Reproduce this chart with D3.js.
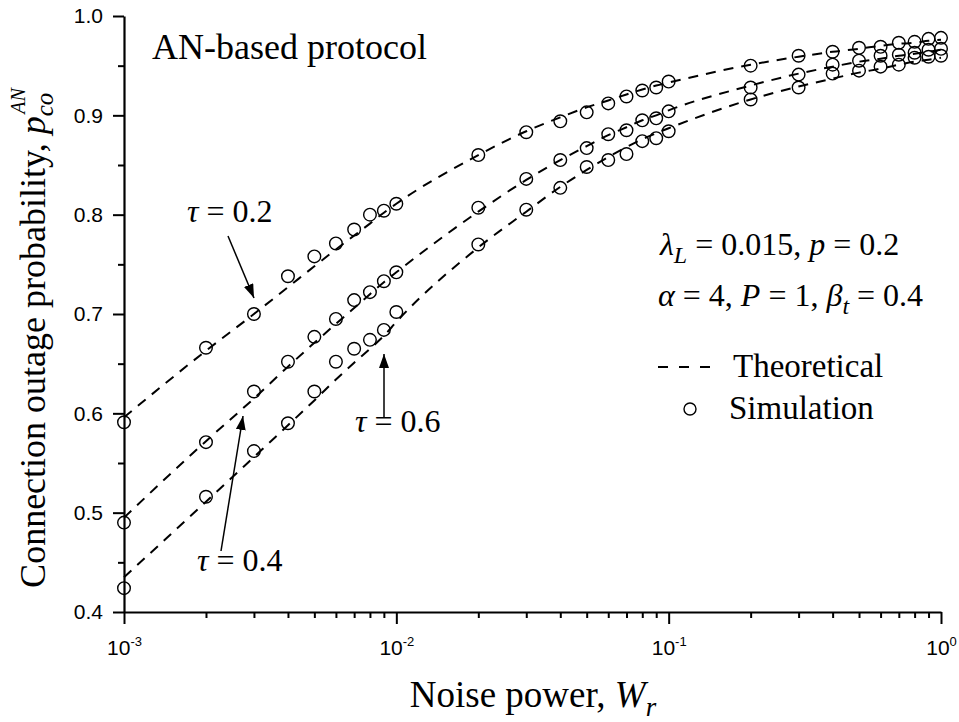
<!DOCTYPE html>
<html>
<head>
<meta charset="utf-8">
<script src="https://cdn.jsdelivr.net/npm/d3@7"></script>
<style>
  body { margin: 0; background: #fff; }
  .tick text { font-family: "Liberation Sans", Arial, sans-serif; }
  .serif { font-family: "Liberation Serif", "Times New Roman", serif; }
</style>
</head>
<body>
<script>
const outerWidth = 959;
const outerHeight = 722;
const margin = { top: 16, right: 18, bottom: 110, left: 124 };
const innerWidth = outerWidth - margin.left - margin.right;
const innerHeight = outerHeight - margin.top - margin.bottom;

// noise power W_r (x values)
const wr = [0.001, 0.002, 0.003, 0.004, 0.005, 0.006, 0.007, 0.008, 0.009,
            0.01, 0.02, 0.03, 0.04, 0.05, 0.06, 0.07, 0.08, 0.09,
            0.1, 0.2, 0.3, 0.4, 0.5, 0.6, 0.7, 0.8, 0.9, 1];

// simulation points (circles)
const simTau02 = [0.591, 0.666, 0.700, 0.738, 0.758, 0.771, 0.785, 0.800, 0.804,
                  0.811, 0.860, 0.883, 0.894, 0.903, 0.912, 0.919, 0.925, 0.928,
                  0.934, 0.950, 0.960, 0.964, 0.968, 0.969, 0.973, 0.974, 0.977, 0.978];
const simTau04 = [0.490, 0.571, 0.622, 0.652, 0.677, 0.695, 0.714, 0.722, 0.733,
                  0.742, 0.807, 0.836, 0.855, 0.867, 0.881, 0.885, 0.895, 0.897,
                  0.904, 0.928, 0.941, 0.951, 0.955, 0.960, 0.961, 0.963, 0.966, 0.967];
const simTau06 = [0.424, 0.516, 0.562, 0.590, 0.622, 0.652, 0.665, 0.674, 0.684,
                  0.702, 0.770, 0.805, 0.827, 0.848, 0.855, 0.861, 0.874, 0.877,
                  0.884, 0.916, 0.928, 0.942, 0.945, 0.949, 0.951, 0.958, 0.959, 0.960];

// theoretical curves (dashed)
const theoTau02 = [0.596, 0.663, 0.700, 0.727, 0.748, 0.765, 0.779, 0.791, 0.802,
                   0.811, 0.860, 0.884, 0.898, 0.908, 0.915, 0.921, 0.926, 0.930,
                   0.933, 0.951, 0.959, 0.964, 0.967, 0.970, 0.972, 0.973, 0.975, 0.976];
const theoTau04 = [0.495, 0.572, 0.615, 0.647, 0.671, 0.690, 0.706, 0.720, 0.732,
                   0.742, 0.803, 0.835, 0.855, 0.869, 0.880, 0.888, 0.895, 0.900,
                   0.905, 0.930, 0.942, 0.949, 0.954, 0.957, 0.960, 0.962, 0.964, 0.966];
const theoTau06 = [0.435, 0.511, 0.556, 0.588, 0.613, 0.634, 0.651, 0.665, 0.678,
                   0.692, 0.767, 0.803, 0.828, 0.845, 0.858, 0.868, 0.876, 0.882,
                   0.887, 0.916, 0.929, 0.937, 0.943, 0.947, 0.951, 0.954, 0.956, 0.958];

const yMajor = [0.4, 0.5, 0.6, 0.7, 0.8, 0.9, 1.0];
const yMinor = [0.45, 0.55, 0.65, 0.75, 0.85, 0.95];
const xMajor = [0.001, 0.01, 0.1, 1];
const xMajorExp = ['-3', '-2', '-1', '0'];

const svg = d3.select('body').append('svg')
    .attr('width', outerWidth)
    .attr('height', outerHeight);

svg.append('defs').append('marker')
    .attr('id', 'arrow')
    .attr('viewBox', '0 0 14 10')
    .attr('refX', 14).attr('refY', 5)
    .attr('markerWidth', 14).attr('markerHeight', 10)
    .attr('markerUnits', 'userSpaceOnUse')
    .attr('orient', 'auto')
  .append('path')
    .attr('d', 'M0,0 L14,5 L0,10 Z')
    .attr('fill', '#000');

const g = svg.append('g')
    .attr('transform', `translate(${margin.left},${margin.top})`);

// scales
const xScale = d3.scaleLog().domain([0.001, 1]).range([0, innerWidth]);
const yScale = d3.scaleLinear().domain([0.4, 1.0]).range([innerHeight, 0]);

// minor ticks
const xMinor = [];
[0.001, 0.01, 0.1].forEach(dec => {
  for (let k = 2; k <= 9; k++) xMinor.push(dec * k);
});

g.append('g')
    .attr('transform', `translate(0,${innerHeight})`)
    .call(d3.axisBottom(xScale).tickValues(xMinor).tickSize(6).tickFormat(''))
    .call(a => a.select('.domain').remove())
    .call(a => a.selectAll('line').attr('stroke-width', 2));

g.append('g')
    .call(d3.axisLeft(yScale).tickValues(yMinor).tickSize(6).tickFormat(''))
    .call(a => a.select('.domain').remove())
    .call(a => a.selectAll('line').attr('stroke-width', 2));

// x axis
const xAxisG = g.append('g')
    .attr('transform', `translate(0,${innerHeight})`)
    .call(d3.axisBottom(xScale).tickValues(xMajor).tickSize(12).tickSizeOuter(0).tickFormat(''));
xAxisG.select('.domain').attr('stroke-width', 2.2);
xAxisG.selectAll('line').attr('stroke-width', 2);
xAxisG.selectAll('.tick').append('text')
    .attr('fill', '#000')
    .attr('y', 43)
    .attr('text-anchor', 'middle')
    .style('font-size', '21px')
    .each(function (d, i) {
      const t = d3.select(this);
      t.append('tspan').text('10');
      t.append('tspan').attr('dy', -9).style('font-size', '13px').text(xMajorExp[i]);
    });

// y axis
const yAxisG = g.append('g')
    .call(d3.axisLeft(yScale).tickValues(yMajor).tickSize(11).tickSizeOuter(0)
      .tickFormat(d3.format('.1f')));
yAxisG.select('.domain').attr('stroke-width', 2.2);
yAxisG.selectAll('line').attr('stroke-width', 2);
yAxisG.selectAll('text')
    .attr('x', -21)
    .attr('fill', '#000')
    .style('font-size', '21px');

// theoretical dashed lines
const theory = [theoTau02, theoTau04, theoTau06];
const line = d3.line()
    .x((d, i) => xScale(wr[i]))
    .y(d => yScale(d))
    .curve(d3.curveMonotoneX);

g.selectAll('.theory')
    .data(theory)
    .enter()
  .append('path')
    .attr('class', 'theory')
    .attr('d', line)
    .attr('fill', 'none')
    .attr('stroke', '#000')
    .attr('stroke-width', 2)
    .attr('stroke-dasharray', '10,8');

// simulation circles
const sims = [simTau02, simTau04, simTau06];
sims.forEach(series => {
  g.selectAll(null)
      .data(series)
      .enter()
    .append('circle')
      .attr('cx', (d, i) => xScale(wr[i]))
      .attr('cy', d => yScale(d))
      .attr('r', 6.3)
      .attr('fill', 'none')
      .attr('stroke', '#000')
      .attr('stroke-width', 1.4);
});

// texts
svg.append('text')
    .attr('class', 'serif')
    .attr('x', 152).attr('y', 59)
    .style('font-size', '36px')
    .text('AN-based protocol');

// y axis label
const yLab = svg.append('text')
    .attr('class', 'serif')
    .attr('transform', 'rotate(-90)')
    .attr('x', -338).attr('y', 45)
    .attr('text-anchor', 'middle')
    .style('font-size', '36px');
yLab.append('tspan').text('Connection outage probability, ');
yLab.append('tspan').style('font-style', 'italic').text('p');
yLab.append('tspan').style('font-style', 'italic').style('font-size', '25px')
    .attr('dy', 8).text('co');
yLab.append('tspan').style('font-style', 'italic').style('font-size', '20px')
    .attr('dx', -21).attr('dy', -28).text('AN');

// x axis label
const xLab = svg.append('text')
    .attr('class', 'serif')
    .attr('x', 533).attr('y', 707)
    .attr('text-anchor', 'middle')
    .style('font-size', '37px');
xLab.append('tspan').text('Noise power, ');
xLab.append('tspan').style('font-style', 'italic').text('W');
xLab.append('tspan').style('font-style', 'italic').style('font-size', '27px')
    .attr('dy', 9).text('r');

// tau annotations
function tauLabel(x, y, val) {
  const t = svg.append('text')
      .attr('class', 'serif')
      .attr('x', x).attr('y', y)
      .style('font-size', '32px');
  t.append('tspan').style('font-style', 'italic').text('\u03c4');
  t.append('tspan').text(' = ' + val);
}
tauLabel(187, 222, '0.2');
tauLabel(197, 571, '0.4');
tauLabel(355, 432, '0.6');

const arrows = [
  [228, 236, 254, 298],
  [221, 551, 243, 416],
  [384, 418, 384, 354]
];
svg.selectAll('.arrow')
    .data(arrows)
    .enter()
  .append('line')
    .attr('class', 'arrow')
    .attr('x1', d => d[0]).attr('y1', d => d[1])
    .attr('x2', d => d[2]).attr('y2', d => d[3])
    .attr('stroke', '#000')
    .attr('stroke-width', 1.5)
    .attr('marker-end', 'url(#arrow)');

// parameters
const p1 = svg.append('text')
    .attr('class', 'serif')
    .attr('x', 660).attr('y', 255)
    .style('font-size', '32px');
p1.append('tspan').style('font-style', 'italic').text('\u03bb');
p1.append('tspan').style('font-style', 'italic').style('font-size', '24px').attr('dy', 8).text('L');
p1.append('tspan').attr('dy', -8).text(' = 0.015, ');
p1.append('tspan').style('font-style', 'italic').text('p');
p1.append('tspan').text(' = 0.2');

const p2 = svg.append('text')
    .attr('class', 'serif')
    .attr('x', 658).attr('y', 306)
    .style('font-size', '32px');
p2.append('tspan').style('font-style', 'italic').text('\u03b1');
p2.append('tspan').text(' = 4, ');
p2.append('tspan').style('font-style', 'italic').text('P');
p2.append('tspan').text(' = 1, ');
p2.append('tspan').style('font-style', 'italic').text('\u03b2');
p2.append('tspan').style('font-style', 'italic').style('font-size', '24px').attr('dy', 8).text('t');
p2.append('tspan').attr('dy', -8).text(' = 0.4');

// legend
const legend = svg.append('g');
legend.append('line')
    .attr('x1', 658).attr('x2', 711)
    .attr('y1', 367).attr('y2', 367)
    .attr('stroke', '#000')
    .attr('stroke-width', 2)
    .attr('stroke-dasharray', '10,11');
legend.append('text')
    .attr('class', 'serif')
    .attr('x', 733).attr('y', 377)
    .style('font-size', '33px')
    .text('Theoretical');
legend.append('circle')
    .attr('cx', 690).attr('cy', 409)
    .attr('r', 6)
    .attr('fill', 'none')
    .attr('stroke', '#000')
    .attr('stroke-width', 1.4);
legend.append('text')
    .attr('class', 'serif')
    .attr('x', 729).attr('y', 419)
    .style('font-size', '33px')
    .text('Simulation');
</script>
</body>
</html>
